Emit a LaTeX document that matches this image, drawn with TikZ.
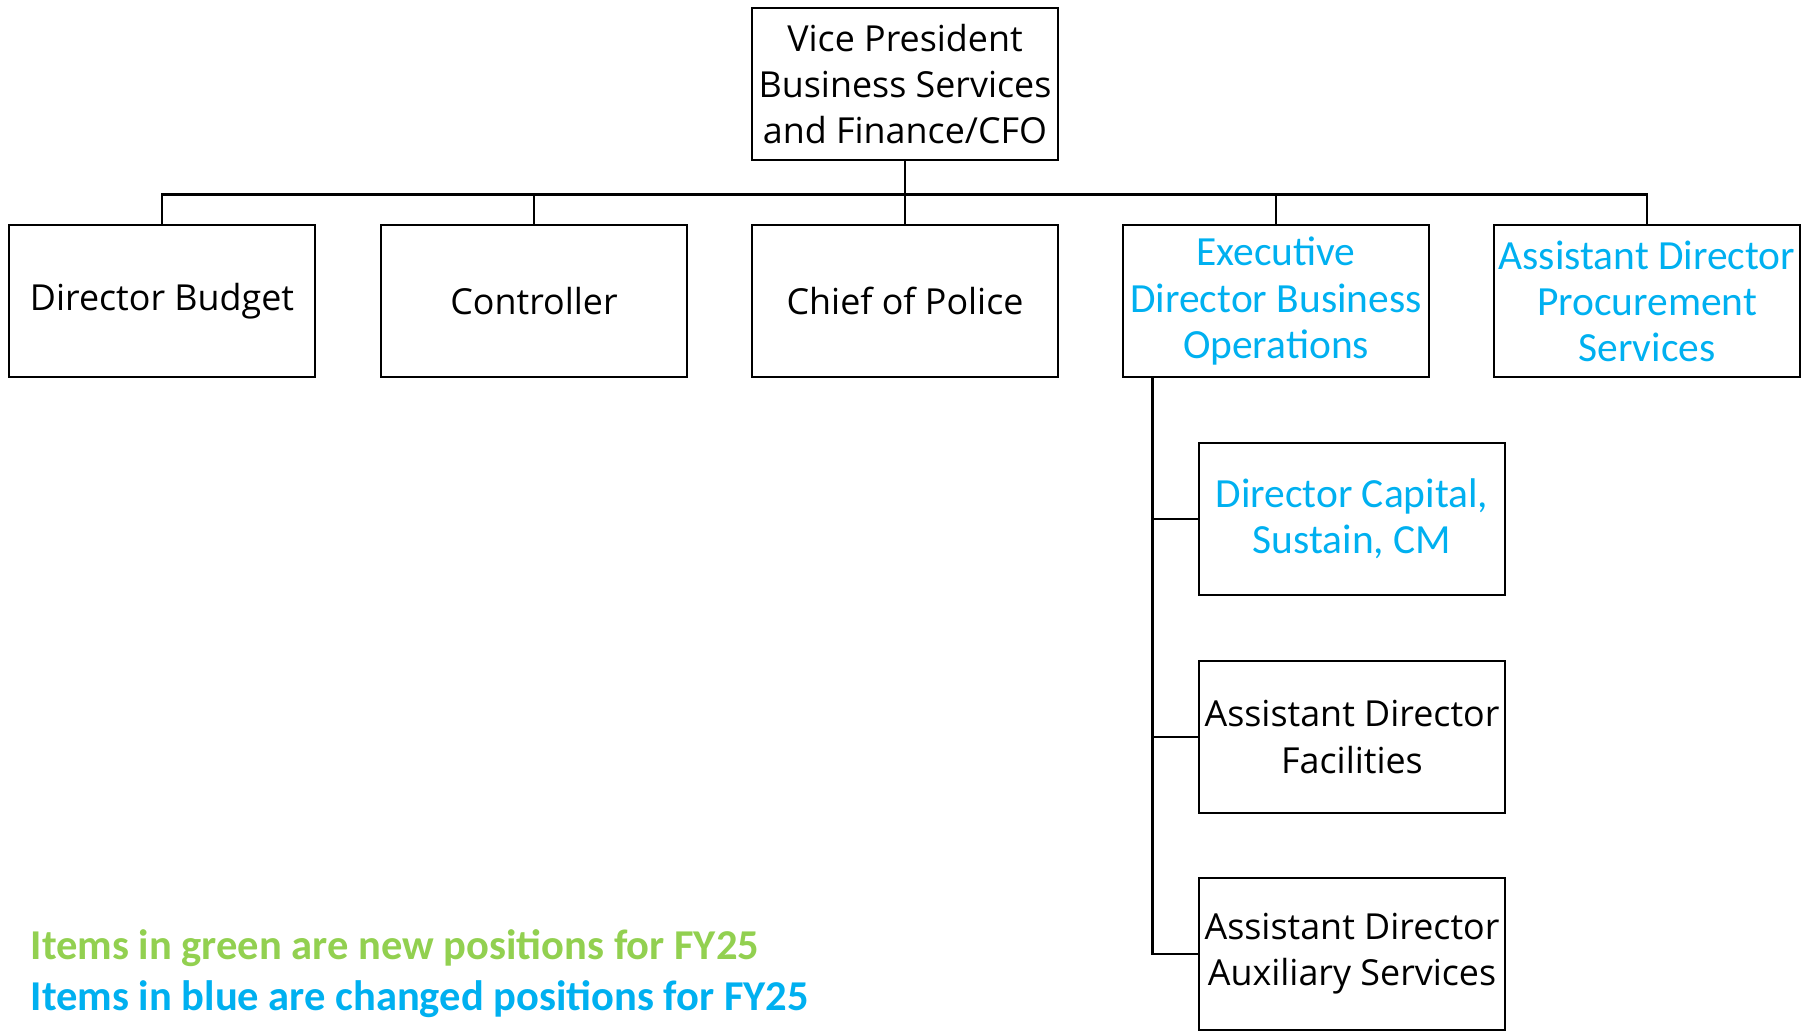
\documentclass[tikz,border=0pt]{standalone}
\usepackage{fontspec}
\setmainfont{Open Sans}
\newfontfamily\calfont{Carlito}
\usetikzlibrary{positioning}
\definecolor{chgblue}{HTML}{00B0F0}
\definecolor{newgreen}{HTML}{92D050}
\tikzset{
  post/.style={draw, line width=0.8pt, minimum width=3.06cm, minimum height=1.52cm,
    inner sep=1pt, align=center,
    font=\fontsize{10.2}{13.1}\selectfont},
  changed/.style={post, text=chgblue, font=\calfont\fontsize{11.8}{13.1}\selectfont},
  link/.style={line width=0.8pt},
  legend/.style={anchor=west, inner sep=0pt, font=\calfont\bfseries\fontsize{12.1}{13}\selectfont}
}

\begin{document}
\begin{tikzpicture}
\useasboundingbox (0,0) rectangle (18.14,-10.30);
\node[post] (VP) at (9.05,-0.84) {Vice President\\ Business Services\\ and Finance/CFO};
\node[post] (Budget) at (1.62,-3.01) {Director Budget};
\node[post] (Controller) at (5.34,-3.01) {Controller};
\node[post] (Police) at (9.05,-3.01) {Chief of Police};
\node[changed] (ExecDir) at (12.76,-3.01) {Executive\\ Director Business\\ Operations};
\node[changed] (Procure) at (16.47,-3.01) {Assistant Director\\ Procurement\\ Services};
\node[changed] (Capital) at (13.52,-5.19) {Director Capital,\\ Sustain, CM};
\node[post] (Facilities) at (13.52,-7.37) {Assistant Director\\ Facilities};
\node[post] (Auxiliary) at (13.52,-9.54) {Assistant Director\\ Auxiliary Services};

% reporting lines
\foreach \n in {Budget, Controller, Police, ExecDir, Procure}
  \draw[link] (VP.south) -- ++(0,-0.33) -| (\n.north);
\foreach \n in {Capital, Facilities, Auxiliary}
  \draw[link] ([xshift=0.31cm]ExecDir.south west) |- (\n.west);

\node[legend, text=newgreen] (LegNew) at (0.30,-9.485) {Items in green are new positions for FY25};
\node[legend, text=chgblue] (LegChg) at (0.30,-9.995) {Items in blue are changed positions for FY25};
\end{tikzpicture}
\end{document}
